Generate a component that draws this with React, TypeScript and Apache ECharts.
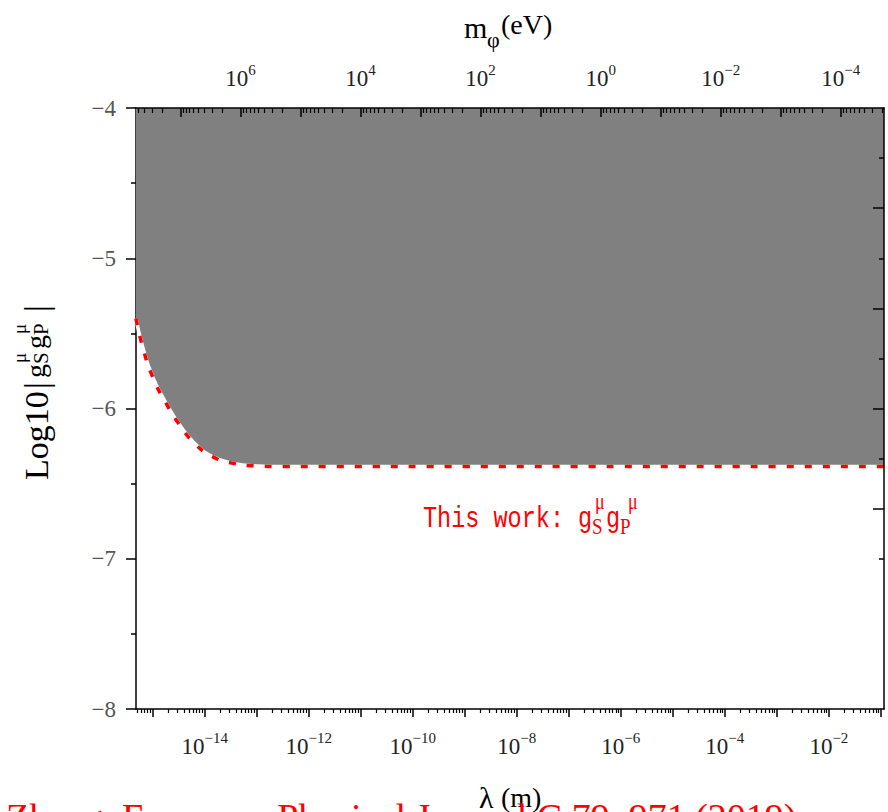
import React, { useEffect, useRef } from 'react';
import * as echarts from 'echarts';

// ---- data (log10 units) ----
const lambdaRange = [-15.32, -0.94]; // log10(λ / m) at left/right edge
const massRange = [-4.72, 7.74]; // log10(mφ / eV) at right/left edge (top axis, reversed)
const couplingRange = [-8, -4]; // log10|gS gP|
const lambdaMajorExps = [-15, -14, -13, -12, -11, -10, -9, -8, -7, -6, -5, -4, -3, -2, -1];
const lambdaLabelExps = [-14, -12, -10, -8, -6, -4, -2];
const massMajorExps = [-4, -3, -2, -1, 0, 1, 2, 3, 4, 5, 6, 7];
const massLabelExps = [6, 4, 2, 0, -2, -4];
const rightShortTicks = [-4.333, -5, -5.667, -6.333, -7];
const rightLongTicks = [-4.667, -5.333, -6, -6.667];
const curveLog10Lambda = [-15.32, -15.2, -15.0, -14.75, -14.5, -14.2, -13.85, -13.45, -13.0, -12.5, -11.5, -9.0, -6.0, -3.0, -0.94];
const curveLog10Coupling = [-5.4, -5.58, -5.79, -5.96, -6.1, -6.23, -6.32, -6.365, -6.382, -6.386, -6.386, -6.386, -6.386, -6.386, -6.386];

const SERIF = "'Liberation Serif', 'Times New Roman', serif";
const MONO = "'Liberation Mono', 'DejaVu Sans Mono', monospace";
const RED = '#ff0000';

function minorLogTicks(lo: number, hi: number): number[] {
  const out: number[] = [];
  for (let n = Math.floor(lo) - 1; n <= Math.ceil(hi); n++) {
    for (let k = 2; k <= 9; k++) {
      const v = n + Math.log10(k);
      if (v > lo && v < hi) out.push(v);
    }
  }
  return out;
}

const minus = (v: number) => String(v).replace('-', '\u2212');
const supLabel = (v: number) => `{b|10}{s|${minus(Math.round(v))}}`;
const supRich = {
  b: { fontSize: 23, fontFamily: SERIF, color: '#222', lineHeight: 32 },
  s: { fontSize: 15, fontFamily: SERIF, color: '#222', lineHeight: 13, verticalAlign: 'top' },
};
const tickLine = { color: '#000', width: 1.5 };

function txt(text: string, x: number, y: number, fontSize: number, fontFamily: string, fill = '#000') {
  return {
    type: 'text',
    x,
    y,
    style: {
      text,
      fontSize,
      fontFamily,
      fill,
      align: 'left',
      verticalAlign: 'middle',
      textAlign: 'left',
      textVerticalAlign: 'middle',
    },
  };
}

export default function App() {
  const ref = useRef<HTMLDivElement>(null);
  useEffect(() => {
    if (!ref.current) return;
    const chart = echarts.init(ref.current, undefined, { renderer: 'svg' });
    const curve = curveLog10Lambda.map((x, i) => [x, curveLog10Coupling[i]]);
    const option: any = {
      animation: false,
      backgroundColor: '#fff',
      grid: { left: 136, right: 4, top: 108, bottom: 103 },
      xAxis: [
        {
          type: 'value',
          position: 'bottom',
          min: lambdaRange[0],
          max: lambdaRange[1],
          z: 10,
          axisLine: { show: true, onZero: false, lineStyle: tickLine },
          axisTick: { show: true, customValues: lambdaMajorExps, length: 8, inside: false, lineStyle: tickLine },
          axisLabel: { show: true, customValues: lambdaLabelExps, formatter: supLabel, rich: supRich, margin: 21 },
          splitLine: { show: false },
        },
        {
          type: 'value',
          position: 'bottom',
          min: lambdaRange[0],
          max: lambdaRange[1],
          z: 10,
          axisLine: { show: false, onZero: false },
          axisTick: { show: true, customValues: minorLogTicks(lambdaRange[0], lambdaRange[1]), length: 4, inside: false, lineStyle: { color: '#000', width: 1.2 } },
          axisLabel: { show: false },
          splitLine: { show: false },
        },
        {
          type: 'value',
          position: 'top',
          inverse: true,
          min: massRange[0],
          max: massRange[1],
          z: 10,
          axisLine: { show: true, onZero: false, lineStyle: tickLine },
          axisTick: { show: true, customValues: massMajorExps, length: 9, inside: true, lineStyle: tickLine },
          axisLabel: { show: true, customValues: massLabelExps, formatter: supLabel, rich: supRich, margin: 14 },
          splitLine: { show: false },
        },
        {
          type: 'value',
          position: 'top',
          inverse: true,
          min: massRange[0],
          max: massRange[1],
          z: 10,
          axisLine: { show: false, onZero: false },
          axisTick: { show: true, customValues: minorLogTicks(massRange[0], massRange[1]), length: 5, inside: true, lineStyle: { color: '#000', width: 1.2 } },
          axisLabel: { show: false },
          splitLine: { show: false },
        },
      ],
      yAxis: [
        {
          type: 'value',
          position: 'left',
          min: couplingRange[0],
          max: couplingRange[1],
          interval: 1,
          z: 0,
          axisLine: { show: true, onZero: false, lineStyle: tickLine },
          axisTick: { show: true, length: 10, inside: false, lineStyle: tickLine },
          minorTick: { show: true, splitNumber: 2, length: 5, lineStyle: tickLine },
          axisLabel: { formatter: (v: number) => minus(v), fontFamily: SERIF, fontSize: 23, color: '#555', margin: 20 },
          splitLine: { show: false },
          minorSplitLine: { show: false },
        },
        {
          type: 'value',
          position: 'right',
          min: couplingRange[0],
          max: couplingRange[1],
          z: 10,
          axisLine: { show: true, onZero: false, lineStyle: tickLine },
          axisTick: { show: true, customValues: rightShortTicks, length: 5, inside: true, lineStyle: tickLine },
          axisLabel: { show: false },
          splitLine: { show: false },
        },
        {
          type: 'value',
          position: 'right',
          min: couplingRange[0],
          max: couplingRange[1],
          z: 10,
          axisLine: { show: false, onZero: false },
          axisTick: { show: true, customValues: rightLongTicks, length: 11, inside: true, lineStyle: tickLine },
          axisLabel: { show: false },
          splitLine: { show: false },
        },
      ],
      series: [
        {
          type: 'line',
          xAxisIndex: 0,
          yAxisIndex: 0,
          data: curve,
          symbol: 'none',
          smooth: 0.5,
          silent: true,
          lineStyle: { color: '#fff', width: 3.5 },
          areaStyle: { color: '#808080', opacity: 1, origin: 'end' },
          z: 2,
        },
        {
          type: 'line',
          xAxisIndex: 0,
          yAxisIndex: 0,
          data: curve,
          symbol: 'none',
          smooth: 0.5,
          silent: true,
          lineStyle: { color: RED, width: 3.5, type: [7, 11] },
          z: 3,
        },
      ],
      graphic: [
        // top axis title  m_φ (eV)
        {
          type: 'group',
          x: 464,
          y: 27,
          children: [
            txt('m', 0, 0, 30, SERIF),
            txt('\u03c6', 23, 12, 22, SERIF),
            txt('(eV)', 37, -3, 28, SERIF),
          ],
        },
        // y axis title  Log10 |g_S^μ g_P^μ|
        {
          type: 'group',
          x: 36,
          y: 480,
          rotation: Math.PI / 2,
          children: [
            txt('Log10', 0, 0, 34, SERIF),
            txt('|', 91, 0, 34, SERIF),
            txt('g', 102, -1, 28, SERIF),
            txt('S', 116, 5, 21, SERIF),
            txt('\u03bc', 117, -17, 19, SERIF),
            txt('g', 131, -1, 28, SERIF),
            txt('P', 145, 5, 21, SERIF),
            txt('\u03bc', 146, -17, 19, SERIF),
            txt('|', 168, 0, 34, SERIF),
          ],
        },
        // legend text
        {
          type: 'group',
          x: 423,
          y: 519,
          scaleY: 1.25,
          children: [
            txt('This work: g', 0, 0, 23.5, MONO, RED),
            txt('S', 169, 6, 19, SERIF, RED),
            txt('\u03bc', 172, -14, 18, SERIF, RED),
            txt('g', 183, 0, 23.5, MONO, RED),
            txt('P', 197, 6, 19, SERIF, RED),
            txt('\u03bc', 205, -14, 18, SERIF, RED),
          ],
        },
        // bottom axis title λ(m)
        {
          type: 'group',
          x: 479,
          y: 797,
          children: [txt('\u03bb', 0, 0, 30, SERIF), txt('(m)', 22, 0, 28, SERIF)],
        },
        // reference (cut by page edge)
        txt('Zhang, European Physical Journal C 79, 971 (2019)', 6, 817, 38, SERIF, RED),
      ],
    };
    chart.setOption(option);
    return () => chart.dispose();
  }, []);
  return <div ref={ref} style={{ position: 'fixed', left: 0, top: 0, width: 888, height: 812 }} />;
}
